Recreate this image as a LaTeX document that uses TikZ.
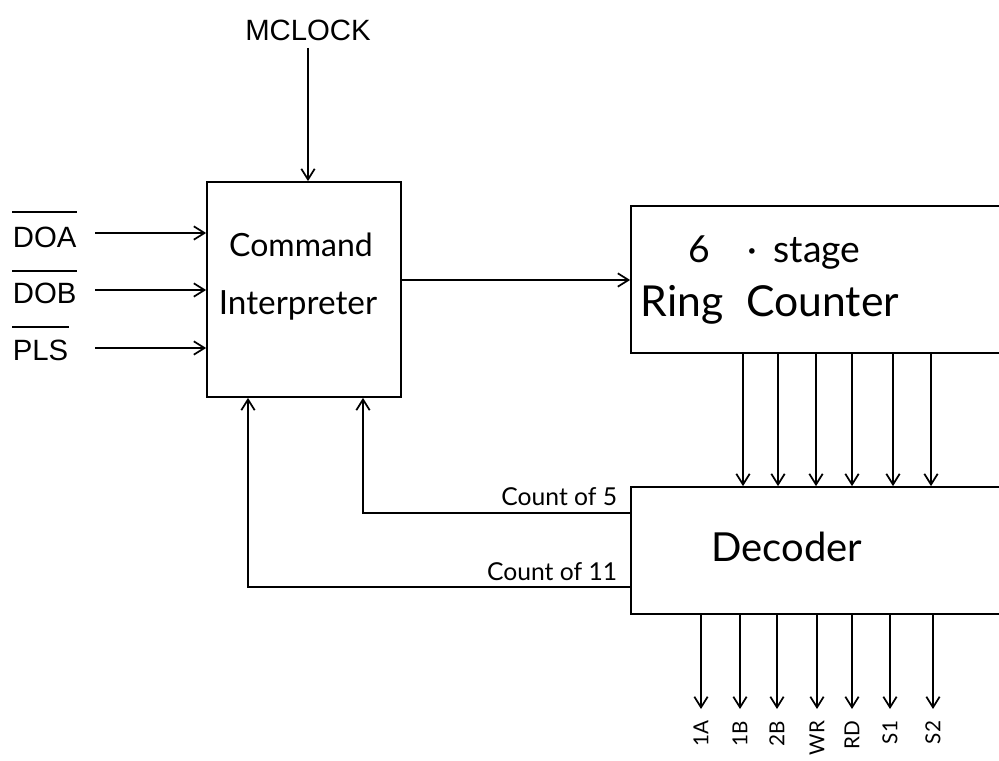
\documentclass[tikz,border=0pt]{standalone}
\usepackage{fontspec}
\setmainfont{Liberation Sans}
\newfontfamily\handfont{Lato}
\usetikzlibrary{arrows.meta}
\begin{document}
\begin{tikzpicture}[x=0.75pt,y=-0.75pt,
  line width=1.3pt,
  arr/.style={-{Straight Barb[length=8pt,width=10pt,line width=1.3pt]}},
  blockbox/.style={draw,rectangle,inner sep=0pt},
  stencil/.style={font=\fontsize{22}{24}\selectfont,inner sep=0pt},
  hand/.style={font=\handfont\fontsize{25}{28}\selectfont,inner sep=0pt},
  small/.style={font=\handfont\fontsize{18.5}{20}\selectfont,inner sep=0pt},
  outlbl/.style={font=\handfont\fontsize{15.5}{18}\selectfont,inner sep=0pt,rotate=90,anchor=east},
  ovl/.style={line width=1.4pt}]
\useasboundingbox (0,0) rectangle (999,760);
\clip (0,0) rectangle (999,760);

% blocks
\node[blockbox,minimum width=145.5pt,minimum height=161.25pt] (ci) at (304,289.5) {};
\node[blockbox,minimum width=298.5pt,minimum height=110.25pt] (ring) at (830,279.5) {};
\node[blockbox,minimum width=298.5pt,minimum height=95.25pt] (dec) at (830,550.5) {};

% block texts
\node[hand,font=\handfont\fontsize{24}{28}\selectfont] (t1) at (301,245) {Command};
\node[hand] (t2) at (298,305) {Interpreter};
\node[hand,font=\handfont\fontsize{28}{30}\selectfont,anchor=base west] (t3) at (688,262) {6\hspace{28pt}{\textperiodcentered}\hspace{12pt}stage};
\node[hand,font=\handfont\fontsize{32}{34}\selectfont,anchor=base west] (t4) at (640,316) {Ring\hspace{17pt}Counter};
\node[hand,font=\handfont\fontsize{30}{32}\selectfont] (t5) at (787,547) {Decoder};

% inputs
\node[stencil,anchor=base] (mclock) at (308,40) {MCLOCK};
\node[stencil,anchor=base west] (doa) at (12,247) {DOA};
\node[stencil,anchor=base west] (dob) at (12,303) {DOB};
\node[stencil,anchor=base west] (pls) at (12,360) {PLS};
\draw[ovl] ([yshift=10pt]doa.north west) -- ([yshift=10pt]doa.north east);
\draw[ovl] ([yshift=8pt]dob.north west) -- ([yshift=8pt]dob.north east);
\draw[ovl] ([yshift=8.5pt]pls.north west) -- ([yshift=8.5pt]pls.north east);

\coordinate (a1) at (95,233);
\coordinate (a2) at (95,290);
\coordinate (a3) at (95,348);
\draw[arr] (a1) -- (a1 -| ci.west);
\draw[arr] (a2) -- (a2 -| ci.west);
\draw[arr] (a3) -- (a3 -| ci.west);
\draw[arr] ([yshift=-5pt]mclock.south) -- (mclock.south |- ci.north);

% CI to ring counter
\draw[arr] (ci.east |- 0,280) -- (ring.west |- 0,280);

% ring counter to decoder
\foreach \x in {743,778,816,852,893,931}{
  \draw[arr] (\x,0 |- ring.south) -- (\x,0 |- dec.north);
}

% feedback
\coordinate (c5) at (363,513);
\coordinate (c11) at (248,587);
\draw[arr] (dec.west |- c5) -- (c5) -- (c5 |- ci.south);
\draw[arr] (dec.west |- c11) -- (c11) -- (c11 |- ci.south);
\node[small,anchor=base east] (l5) at (618,505) {Count of 5};
\node[small,anchor=base east] (l11) at (618,580) {Count of 11};

% outputs
\foreach \x/\t/\n in {701/1A/o1,740/1B/o2,777/2B/o3,817/WR/o4,852/RD/o5,890/S1/o6,933/S2/o7}{
  \draw[arr] (\x,0 |- dec.south) -- (\x,709);
  \node[outlbl] (\n) at (\x,720) {\t};
}
\end{tikzpicture}
\end{document}
